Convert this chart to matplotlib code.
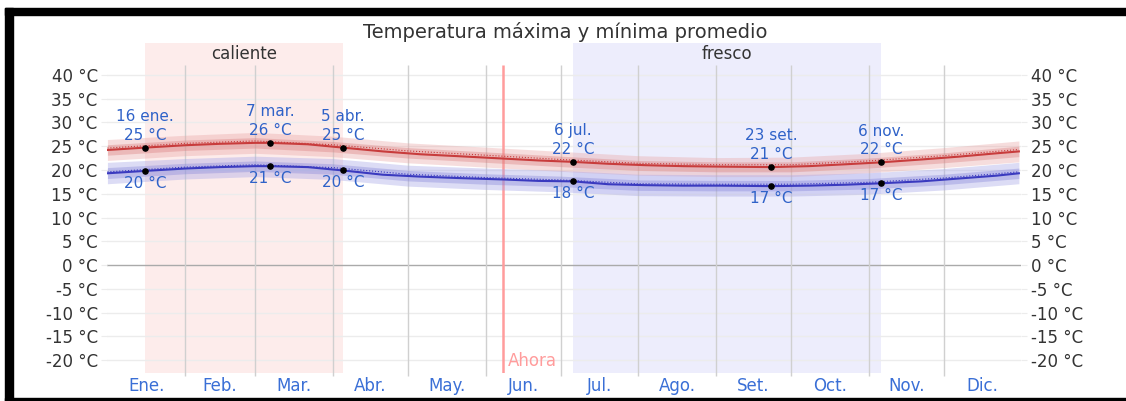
import matplotlib.pyplot as plt
from matplotlib.patches import Rectangle

# --- data (day of year, 0 = 1 Jan) ---
line_days = [0, 15, 31, 45, 59, 65, 80, 94, 110, 125, 140, 158, 172, 186,
             200, 215, 230, 245, 265, 280, 295, 309, 325, 340, 355, 364]
max_temp = [24.2, 24.7, 25.2, 25.5, 25.7, 25.7, 25.4, 24.7, 23.9, 23.3, 22.9,
            22.4, 22.0, 21.7, 21.3, 21.0, 20.8, 20.7, 20.6, 20.8, 21.2, 21.6,
            22.2, 22.8, 23.5, 23.9]
min_temp = [19.3, 19.8, 20.3, 20.6, 20.8, 20.8, 20.6, 19.9, 19.0, 18.6, 18.3,
            18.0, 17.7, 17.6, 17.0, 16.8, 16.7, 16.7, 16.6, 16.7, 16.9, 17.2,
            17.6, 18.2, 18.8, 19.3]

band_days = [0, 31, 59, 90, 120, 151, 181, 212, 243, 273, 304, 334, 364]
max_p90 = [26.4, 27.3, 27.9, 27.1, 25.7, 24.8, 23.9, 23.0, 22.6, 22.7, 23.5, 24.7, 26.1]
max_p75 = [25.3, 26.3, 26.8, 26.0, 24.7, 23.8, 22.9, 22.0, 21.7, 21.7, 22.5, 23.6, 25.0]
max_p25 = [23.1, 24.1, 24.6, 23.8, 22.5, 21.6, 20.7, 19.9, 19.6, 19.6, 20.4, 21.5, 22.8]
max_p10 = [22.0, 23.0, 23.5, 22.8, 21.5, 20.6, 19.7, 18.9, 18.6, 18.6, 19.4, 20.5, 21.7]
max_mean = [24.6, 25.6, 26.1, 25.3, 24.0, 23.1, 22.2, 21.4, 21.1, 21.1, 21.9, 23.0, 24.3]

min_p90 = [21.6, 22.4, 22.9, 22.4, 21.0, 20.4, 19.9, 19.1, 19.0, 19.0, 19.4, 20.3, 21.6]
min_p75 = [20.5, 21.4, 21.9, 21.3, 19.9, 19.2, 18.7, 17.9, 17.8, 17.8, 18.2, 19.1, 20.4]
min_p25 = [18.2, 19.2, 19.7, 19.1, 17.7, 17.0, 16.5, 15.7, 15.6, 15.6, 16.0, 16.9, 18.2]
min_p10 = [17.1, 18.1, 18.6, 18.0, 16.6, 15.9, 15.4, 14.6, 14.5, 14.5, 14.9, 15.8, 17.1]
min_mean = [19.6, 20.6, 21.1, 20.5, 19.1, 18.4, 17.9, 17.1, 17.0, 17.0, 17.4, 18.3, 19.6]

hi_days = [15, 65, 94, 186, 265, 309]
hi_dates = ['16 ene.', '7 mar.', '5 abr.', '6 jul.', '23 set.', '6 nov.']
hi_max = [24.7, 25.7, 24.7, 21.7, 20.6, 21.6]
hi_min = [19.8, 20.8, 19.9, 17.6, 16.6, 17.2]

month_starts = [0, 31, 59, 90, 120, 151, 181, 212, 243, 273, 304, 334, 365]
month_names = ['Ene.', 'Feb.', 'Mar.', 'Abr.', 'May.', 'Jun.', 'Jul.', 'Ago.',
               'Set.', 'Oct.', 'Nov.', 'Dic.']
y_ticks = list(range(-20, 45, 5))

seasons = [(15, 94, 'caliente', '#fdeceb'), (186, 309, 'fresco', '#ededfc')]
now_day = 158

plt.rcParams['font.family'] = ['DejaVu Sans']
FS = 12

fig = plt.figure(figsize=(11.26, 4.01), dpi=100)
ax = fig.add_axes([0.0954, 0.0698, 0.8117, 0.823])
ax.set_xlim(0, 365)
ax.set_ylim(-22.7, 46.7)
for s in ax.spines.values():
    s.set_visible(False)

# seasons
for start, end, name, color in seasons:
    ax.axvspan(start, end, color=color, zorder=0, lw=0)
    ax.text((start + end) / 2, 44.4, name, ha='center', va='center',
            fontsize=FS, color='#333333')

# grid
for t in y_ticks:
    ax.axhline(t, color='#aaaaaa' if t == 0 else '#ececec', lw=1, zorder=1)
ax.vlines(month_starts[1:-1], -23.4, 42.1, color='#d0d0d0', lw=1,
          zorder=1, clip_on=False)

# now
ax.vlines(now_day, -22.7, 42.1, color='#ff9c9c', lw=1.8, zorder=2)
ax.text(now_day + 2, -20.2, 'Ahora', color='#ff9c9c', fontsize=FS,
        va='center', ha='left')

# bands
ax.fill_between(band_days, max_p10, max_p90, color='#e8a0a0', alpha=0.35, lw=0, zorder=3)
ax.fill_between(band_days, max_p25, max_p75, color='#d87878', alpha=0.35, lw=0, zorder=3)
ax.fill_between(band_days, min_p10, min_p90, color='#a8a8e8', alpha=0.4, lw=0, zorder=3)
ax.fill_between(band_days, min_p25, min_p75, color='#8080d8', alpha=0.35, lw=0, zorder=3)

ax.plot(band_days, max_mean, color='#c83c3c', lw=0.8, ls=':', zorder=4)
ax.plot(band_days, min_mean, color='#3a3abf', lw=0.8, ls=':', zorder=4)
ax.plot(line_days, max_temp, color='#c83c3c', lw=1.5, zorder=5)
ax.plot(line_days, min_temp, color='#3a3abf', lw=1.5, zorder=5)

ax.scatter(hi_days, hi_max, s=14, color='black', zorder=6)
ax.scatter(hi_days, hi_min, s=14, color='black', zorder=6)

lab_color = '#2f62c8'
AFS = 11
for d, name, hi, lo in zip(hi_days, hi_dates, hi_max, hi_min):
    ax.annotate(f'{hi:.0f} °C', (d, hi), xytext=(0, 9), textcoords='offset points',
                ha='center', va='center', fontsize=AFS, color=lab_color, zorder=7)
    ax.annotate(name, (d, hi), xytext=(0, 22.5), textcoords='offset points',
                ha='center', va='center', fontsize=AFS, color=lab_color, zorder=7)
    ax.annotate(f'{lo:.0f} °C', (d, lo), xytext=(0, -9), textcoords='offset points',
                ha='center', va='center', fontsize=AFS, color=lab_color, zorder=7)

# axes ticks
ax.set_yticks(y_ticks)
ax.set_yticklabels([f'{t} °C' for t in y_ticks])
ax.tick_params(axis='y', which='both', left=True, right=True, labelleft=True,
               labelright=True, length=4, color='#ececec', pad=3,
               labelsize=FS, labelcolor='#333333')
ax.set_xticks([])
ax.set_xticks([(month_starts[i] + month_starts[i + 1]) / 2 for i in range(12)],
              minor=True)
ax.set_xticklabels(month_names, minor=True)
ax.tick_params(axis='x', which='minor', length=0, pad=3, labelsize=FS,
               labelcolor='#3a6fd6')

fig.text(0.502, 0.921, 'Temperatura máxima y mínima promedio', ha='center',
         va='center', fontsize=14, color='#333333')

# black frame of the screenshot
W, H = 1126, 401
for x, y, w, h in [(5, 8, 1121, 7), (5, 8, 8, 393), (5, 398, 1121, 3)]:
    fig.patches.append(Rectangle((x / W, 1 - (y + h) / H), w / W, h / H,
                                 transform=fig.transFigure, color='black',
                                 zorder=10))

fig.savefig('out.png', dpi=100)
